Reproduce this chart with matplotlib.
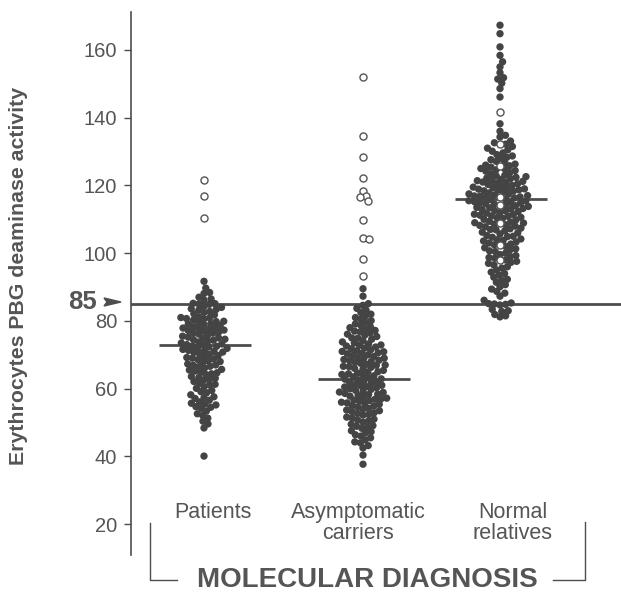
"""
Erythrocyte PBG deaminase activity by molecular diagnosis (dot plot).
"""
import numpy as np
import matplotlib
matplotlib.use('Agg')
import matplotlib.pyplot as plt
from matplotlib.patches import Polygon

plt.rcParams['font.family'] = ['Liberation Sans', 'DejaVu Sans']

GREY = '#4d4d4d'
TEXT = '#555555'

groups = ['Patients', 'Asymptomatic\ncarriers', 'Normal\nrelatives']
medians = [73, 63, 116]
cutoff = 85

patients_filled = [
    91.7,
    89.7, 88.4, 88.1,
    87.0, 86.5, 86.2,
    85.1, 85.0, 84.9, 85.2, 84.3, 84.0,
    83.6, 83.2, 82.8, 82.5, 82.1, 83.4,
    81.8, 81.2, 80.9, 80.6, 80.3, 81.0, 80.7,
    79.8, 79.5, 79.2, 78.9, 78.6, 78.3, 78.0, 79.9, 79.1,
    77.9, 77.6, 77.3, 77.0, 76.7, 76.4, 76.1, 77.8, 77.2, 76.5,
    75.8, 75.5, 75.2, 74.9, 74.6, 74.3, 74.0, 75.0, 74.5,
    73.8, 73.5, 73.2, 72.9, 72.6, 72.3, 72.0, 73.0, 72.5,
    71.9, 71.6, 71.3, 71.0, 70.7, 70.4, 70.1, 71.2, 70.8,
    69.8, 69.4, 69.0, 68.6, 68.2, 69.2, 68.8, 68.0,
    67.7, 67.3, 66.9, 66.5, 66.1, 67.0, 66.6,
    65.7, 65.2, 64.7, 64.2, 65.5, 64.9, 64.4,
    63.6, 63.1, 62.6, 62.1, 63.3, 62.8,
    61.6, 61.1, 60.6, 60.1, 61.3,
    59.5, 58.8, 58.2, 59.1,
    57.6, 57.1, 56.6, 56.1, 57.3,
    55.7, 55.2, 54.7, 54.2, 55.5, 54.5,
    53.4, 52.6, 52.1,
    51.3, 50.4,
    49.6, 48.4,
    40.1,
]
patients_open = [121.5, 117.0, 110.5]

carriers_filled = [
    89.5, 87.3,
    85.1, 84.6,
    83.7, 83.2, 82.5, 82.0,
    81.5, 81.0, 80.5, 80.1,
    79.6, 79.1, 78.7, 78.3, 78.0,
    77.6, 77.2, 76.8, 76.4, 76.1, 77.0,
    75.8, 75.4, 75.0, 74.6, 74.2, 74.9,
    73.8, 73.5, 73.2, 72.9, 72.6, 72.3, 72.0, 72.8,
    71.8, 71.5, 71.2, 70.9, 70.6, 70.3, 70.0, 71.0, 70.5,
    69.8, 69.5, 69.2, 68.9, 68.6, 68.3, 68.0, 69.0, 68.4,
    67.8, 67.5, 67.2, 66.9, 66.6, 66.3, 66.0, 67.0, 66.5,
    65.8, 65.4, 65.0, 64.6, 64.2, 64.9, 64.4, 64.0,
    63.8, 63.5, 63.2, 62.9, 62.6, 62.3, 62.0, 62.8,
    61.8, 61.5, 61.2, 60.9, 60.6, 60.3, 60.0, 61.0, 60.5,
    59.8, 59.5, 59.2, 58.9, 58.6, 58.3, 58.0, 59.0, 58.4,
    57.8, 57.5, 57.2, 56.9, 56.6, 56.3, 56.0, 57.0, 56.5,
    55.8, 55.4, 55.0, 54.6, 54.2, 55.6, 54.9, 54.0,
    53.7, 53.2, 52.7, 52.2, 53.5, 52.9, 52.4,
    51.6, 51.0, 50.5, 50.1, 51.3, 50.7,
    49.5, 48.9, 48.3, 49.1, 48.6,
    47.6, 47.0, 46.4, 46.0, 47.3,
    45.5, 44.9, 44.3, 44.0,
    43.2, 42.5,
    40.4,
    37.7,
]
carriers_open = [152.0, 134.6, 128.4, 122.2, 118.3, 116.8, 116.6, 115.3,
                 109.9, 104.5, 104.3, 98.2, 93.2]

normal_filled = [
    167.3, 164.8, 160.9, 158.4, 156.5, 155.0, 153.3, 151.8, 151.4, 150.2,
    148.6, 146.1, 138.2,
    136.0, 134.8, 134.3,
    133.1, 132.6, 132.2,
    131.5, 131.0, 130.5, 130.1,
    129.6, 129.1, 128.7, 128.3, 128.0,
    127.6, 127.1, 126.7, 126.3, 126.0,
    125.8, 125.4, 125.0, 124.6, 124.2, 124.9, 124.4,
    123.8, 123.4, 123.0, 122.6, 122.2, 122.8, 122.4, 122.0,
    121.8, 121.5, 121.2, 120.9, 120.6, 120.3, 120.0, 121.0, 120.5, 121.4,
    119.8, 119.5, 119.2, 118.9, 118.6, 118.3, 118.0, 119.0, 118.7, 118.4, 119.4,
    117.8, 117.5, 117.2, 116.9, 116.6, 116.3, 116.0, 117.0, 116.5, 117.4, 116.8,
    115.8, 115.5, 115.2, 114.9, 114.6, 114.3, 114.0, 115.0, 114.5, 115.4, 114.8,
    113.8, 113.5, 113.2, 112.9, 112.6, 112.3, 112.0, 113.0, 112.5, 113.4,
    111.8, 111.5, 111.2, 110.9, 110.6, 110.3, 110.0, 111.0, 110.5, 111.4,
    109.8, 109.4, 109.0, 108.6, 108.2, 108.9, 108.4, 109.2, 108.0,
    107.8, 107.4, 107.0, 106.6, 106.2, 106.9, 107.2, 106.0,
    105.7, 105.2, 104.7, 104.2, 104.9, 105.0, 104.0,
    103.6, 103.0, 102.5, 102.0, 103.3, 102.7, 103.8,
    101.6, 101.0, 100.5, 100.0, 101.3, 100.7,
    99.6, 99.0, 98.5, 98.0, 99.3, 98.7,
    97.6, 97.0, 96.5, 96.0, 97.3,
    95.6, 95.0, 94.4, 94.0,
    93.5, 92.9, 92.3, 92.0,
    91.4, 90.7, 90.1,
    89.4, 88.7, 88.2,
    87.3, 86.1,
    85.3, 85.0, 84.7, 85.1, 84.9,
    83.4, 83.0, 82.8,
    81.9, 81.5, 81.2,
]
normal_open = [141.7, 132.3, 125.8, 116.6, 114.2, 108.8, 102.4, 97.9]

# layout: x data units are figure pixels, axes spans x 131..621
W, H = 621, 594
centers = [204, 363, 500]
PX_PER_UNIT = 3.386
DOT = 5.7


def swarm(values, d, n_first=0):
    """x offsets (pixels) so dots spread sideways; the first n_first values are placed first."""
    ys = np.asarray(values) * PX_PER_UNIT
    xs = np.zeros(len(ys))
    placed = []
    order = list(range(n_first)) + sorted(range(n_first, len(ys)), key=lambda k: ys[k])
    for i in order:
        y = ys[i]
        cands = [0.0]
        for px, py in placed:
            dy = y - py
            if abs(dy) < d:
                dx = np.sqrt(d * d - dy * dy)
                cands += [px + dx, px - dx]
        cands.sort(key=abs)
        for c in cands:
            if all((c - px) ** 2 + (y - py) ** 2 >= d * d - 1e-6 for px, py in placed):
                xs[i] = c
                break
        placed.append((xs[i], y))
    return xs


def fx(px):
    return px / W


def fy(py):
    return 1 - py / H


fig = plt.figure(figsize=(6.21, 5.94), dpi=100)
ax = fig.add_axes([fx(131), fy(555), 1 - fx(131), (555 - 12) / H])
ax.set_xlim(131, 621)
ax.set_ylim(10.9, 171.2)

# cutoff line
ax.axhline(cutoff, color=GREY, lw=2, zorder=1)

# median bars
for c, m in zip(centers, medians):
    ax.plot([c - 45, c + 47], [m, m], color=GREY, lw=2, zorder=1, solid_capstyle='butt')

all_filled = [patients_filled, carriers_filled, normal_filled]
all_open = [patients_open, carriers_open, normal_open]
for c, filled, opn in zip(centers, all_filled, all_open):
    vals = list(opn) + list(filled)
    offs = swarm(vals, DOT, n_first=len(opn))
    no = len(opn)
    ax.scatter(c + offs[no:], filled, s=28, color='#444444', edgecolors='none', zorder=3)
    ax.scatter(c + offs[:no], opn, s=26, facecolors='white', edgecolors='#555555',
               linewidths=1, zorder=4)

# axis styling
for side in ['top', 'right', 'bottom']:
    ax.spines[side].set_visible(False)
ax.spines['left'].set_color(GREY)
ax.spines['left'].set_linewidth(1.2)
ax.set_xticks([])
ax.set_yticks([20, 40, 60, 80, 100, 120, 140, 160])
ax.tick_params(axis='y', direction='out', length=5, width=1, color=GREY,
               labelsize=14.5, labelcolor=TEXT, pad=5)

ax.set_ylabel('Erythrocytes PBG deaminase activity', fontsize=15.3, fontweight='bold',
              color=TEXT)
ax.yaxis.set_label_coords((28 - 131) / 490, (555 - 276) / 543)

# cutoff label with arrowhead
fig.text(fx(97), fy(302), '85', ha='right', va='center', fontsize=18.5,
         fontweight='bold', color=TEXT)
fig.add_artist(Polygon([[fx(104), fy(298)], [fx(121), fy(302)], [fx(104), fy(306)],
                        [fx(107), fy(302)]], closed=True, color=GREY,
                       transform=fig.transFigure))

# category labels
label_x = [213, 358, 513]
for lx, g in zip(label_x, groups):
    fig.text(fx(lx), fy(502), g, ha='center', va='top', fontsize=15.5, color=TEXT,
             linespacing=1.0)

# bracket and axis title
fig.text(fx(367), fy(580), 'MOLECULAR DIAGNOSIS', ha='center', va='center',
         fontsize=20, fontweight='bold', color=TEXT)
bracket = dict(color=GREY, lw=1)
fig.add_artist(plt.Line2D([fx(150), fx(150), fx(177)], [fy(523), fy(580), fy(580)], **bracket))
fig.add_artist(plt.Line2D([fx(553), fx(585), fx(585)], [fy(580), fy(580), fy(522)], **bracket))

fig.savefig('out.png', dpi=100)
